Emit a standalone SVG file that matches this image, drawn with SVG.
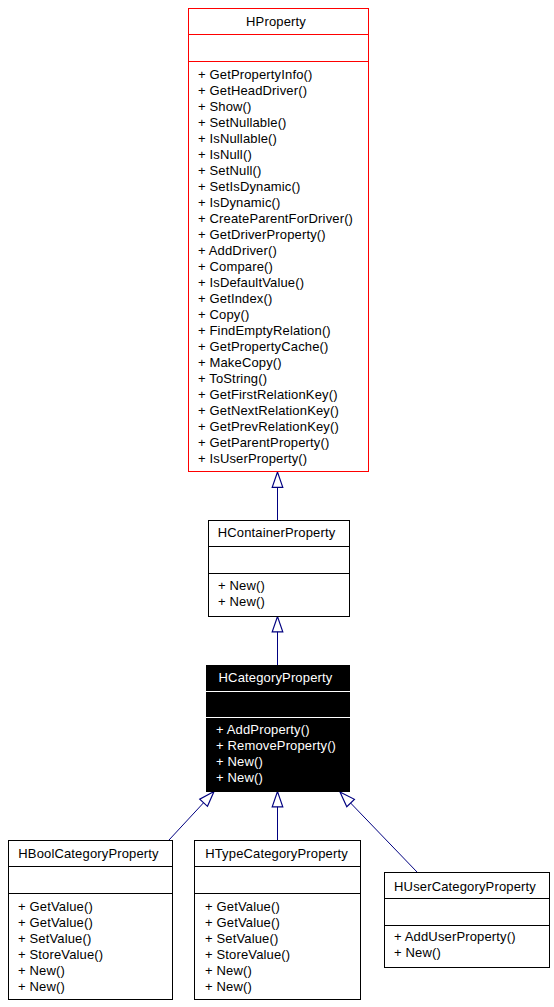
<svg xmlns="http://www.w3.org/2000/svg" width="554" height="1007" viewBox="0 0 554 1007">
<style>
  text { font-family: "Liberation Sans", Arial, sans-serif; font-size: 13px; letter-spacing: 0.15px; fill: #000; }
  .t { text-anchor: middle; }
  .box { fill: #fff; stroke: #000; stroke-width: 1; }
  .sep { stroke: #000; stroke-width: 1; }
  .red { stroke: #ff0000; }
  .inv text { fill: #fff; }
  .wsep { stroke: #fff; stroke-width: 1; }
  .conn line { stroke: #000080; stroke-width: 1; fill: none; }
</style>
<defs>
  <marker id="inh" markerUnits="userSpaceOnUse" markerWidth="20" markerHeight="20" viewBox="-15 -8 17 16" refX="0" refY="0" orient="auto">
    <path d="M0,0 L-13,-4.5 L-13,4.5 Z" fill="#fff" stroke="#000080" stroke-width="1"/>
  </marker>
</defs>
<rect width="554" height="1007" fill="#fff"/>

<g id="conn" class="conn">
  <line x1="277.5" y1="520" x2="277.5" y2="472" marker-end="url(#inh)"/>
  <line x1="277.5" y1="665" x2="277.5" y2="616.5" marker-end="url(#inh)"/>
  <line x1="169" y1="840" x2="214" y2="791.5" marker-end="url(#inh)"/>
  <line x1="277.5" y1="840" x2="277.5" y2="791.5" marker-end="url(#inh)"/>
  <line x1="417" y1="872" x2="340" y2="792" marker-end="url(#inh)"/>
</g>

<g id="HProperty">
  <rect class="box red" x="188.5" y="8.5" width="180" height="463"/>
  <line class="sep red" x1="188.5" y1="34.5" x2="368.5" y2="34.5"/>
  <line class="sep red" x1="188.5" y1="61.5" x2="368.5" y2="61.5"/>
  <text class="t" x="276" y="26">HProperty</text>
  <text x="198" y="79">+ GetPropertyInfo()</text>
  <text x="198" y="95">+ GetHeadDriver()</text>
  <text x="198" y="111">+ Show()</text>
  <text x="198" y="127">+ SetNullable()</text>
  <text x="198" y="143">+ IsNullable()</text>
  <text x="198" y="159">+ IsNull()</text>
  <text x="198" y="175">+ SetNull()</text>
  <text x="198" y="191">+ SetIsDynamic()</text>
  <text x="198" y="207">+ IsDynamic()</text>
  <text x="198" y="223">+ CreateParentForDriver()</text>
  <text x="198" y="239">+ GetDriverProperty()</text>
  <text x="198" y="255">+ AddDriver()</text>
  <text x="198" y="271">+ Compare()</text>
  <text x="198" y="287">+ IsDefaultValue()</text>
  <text x="198" y="303">+ GetIndex()</text>
  <text x="198" y="319">+ Copy()</text>
  <text x="198" y="335">+ FindEmptyRelation()</text>
  <text x="198" y="351">+ GetPropertyCache()</text>
  <text x="198" y="367">+ MakeCopy()</text>
  <text x="198" y="383">+ ToString()</text>
  <text x="198" y="399">+ GetFirstRelationKey()</text>
  <text x="198" y="415">+ GetNextRelationKey()</text>
  <text x="198" y="431">+ GetPrevRelationKey()</text>
  <text x="198" y="447">+ GetParentProperty()</text>
  <text x="198" y="463">+ IsUserProperty()</text>
</g>

<g id="HContainerProperty">
  <rect class="box" x="208.5" y="520.5" width="141" height="96"/>
  <line class="sep" x1="208.5" y1="546.5" x2="349.5" y2="546.5"/>
  <line class="sep" x1="208.5" y1="573.5" x2="349.5" y2="573.5"/>
  <text class="t" x="276.5" y="537">HContainerProperty</text>
  <text x="218" y="590">+ New()</text>
  <text x="218" y="606">+ New()</text>
</g>

<g id="HCategoryProperty" class="inv">
  <rect x="206" y="665" width="144" height="127" fill="#000"/>
  <line class="wsep" x1="206" y1="691.5" x2="350" y2="691.5"/>
  <line class="wsep" x1="206" y1="717.5" x2="350" y2="717.5"/>
  <text class="t" x="275.5" y="682">HCategoryProperty</text>
  <text x="216" y="734">+ AddProperty()</text>
  <text x="216" y="750">+ RemoveProperty()</text>
  <text x="216" y="766">+ New()</text>
  <text x="216" y="782">+ New()</text>
</g>

<g id="HBoolCategoryProperty">
  <rect class="box" x="8.5" y="840.5" width="164" height="159"/>
  <line class="sep" x1="8.5" y1="866.5" x2="172.5" y2="866.5"/>
  <line class="sep" x1="8.5" y1="893.5" x2="172.5" y2="893.5"/>
  <text class="t" x="88.5" y="858">HBoolCategoryProperty</text>
  <text x="18" y="911">+ GetValue()</text>
  <text x="18" y="927">+ GetValue()</text>
  <text x="18" y="943">+ SetValue()</text>
  <text x="18" y="959">+ StoreValue()</text>
  <text x="18" y="975">+ New()</text>
  <text x="18" y="991">+ New()</text>
</g>

<g id="HTypeCategoryProperty">
  <rect class="box" x="194.5" y="840.5" width="166" height="159"/>
  <line class="sep" x1="194.5" y1="866.5" x2="360.5" y2="866.5"/>
  <line class="sep" x1="194.5" y1="893.5" x2="360.5" y2="893.5"/>
  <text class="t" x="276.5" y="858">HTypeCategoryProperty</text>
  <text x="205" y="911">+ GetValue()</text>
  <text x="205" y="927">+ GetValue()</text>
  <text x="205" y="943">+ SetValue()</text>
  <text x="205" y="959">+ StoreValue()</text>
  <text x="205" y="975">+ New()</text>
  <text x="205" y="991">+ New()</text>
</g>

<g id="HUserCategoryProperty">
  <rect class="box" x="384.5" y="872.5" width="165" height="95"/>
  <line class="sep" x1="384.5" y1="898.5" x2="549.5" y2="898.5"/>
  <line class="sep" x1="384.5" y1="925.5" x2="549.5" y2="925.5"/>
  <text class="t" x="465" y="891">HUserCategoryProperty</text>
  <text x="394" y="941">+ AddUserProperty()</text>
  <text x="394" y="957">+ New()</text>
</g>
</svg>
